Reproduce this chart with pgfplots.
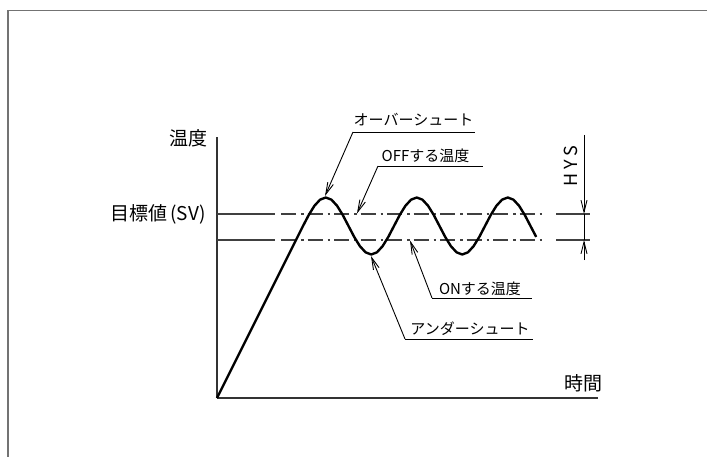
\documentclass[border=0pt]{standalone}
\usepackage{fontspec}
\setmainfont{Noto Sans CJK JP}
\usepackage{pgfplots}
\usepackage{pgfplotstable}
\pgfplotsset{compat=1.18}
\usetikzlibrary{arrows.meta}

% temperature response: ramp, then oscillation around SV
\pgfplotstableread{
x y
0 0
86.00 172.00
91.69 182.91
97.38 192.15
103.06 198.33
108.75 200.50
114.44 198.33
120.13 192.15
125.81 182.91
131.50 172.00
137.19 161.09
142.88 151.85
148.56 145.67
154.25 143.50
159.94 145.67
165.63 151.85
171.31 161.09
177.00 172.00
182.69 182.91
188.38 192.15
194.06 198.33
199.75 200.50
205.44 198.33
211.13 192.15
216.81 182.91
222.50 172.00
228.19 161.09
233.88 151.85
239.56 145.67
245.25 143.50
250.94 145.67
256.63 151.85
262.31 161.09
268.00 172.00
273.69 182.91
279.38 192.15
285.06 198.33
290.75 200.50
296.44 198.33
302.13 192.15
307.81 182.91
313.50 172.00
319.19 161.09
}\curve

\tikzset{
  lead/.style={black, line width=0.9pt, -{Straight Barb[length=12pt,width=6pt]}},
  ref/.style={black!75, line width=1.4pt},
  chain/.style={ref, dash pattern=on 15pt off 5pt on 2.5pt off 4pt},
}

\begin{document}
\begin{tikzpicture}[x=1pt,y=1pt]
\useasboundingbox (0,0) rectangle (707,456);
\draw[line width=1.7pt, black!55] (8.3,-3) -- (8.3,445.5) -- (712,445.5);
\begin{axis}[
  x=1pt, y=1pt, anchor=origin, at={(217pt,58pt)},
  xmin=0, xmax=381, ymin=0, ymax=261,
  axis lines*=left, axis line style={line width=1.8pt, black!80},
  xtick=\empty, ytick=\empty,
  clip=false]

  % SV (OFF) and ON levels
  \addplot[ref] coordinates {(0,184) (58,184)};
  \addplot[chain] coordinates {(64,184) (326,184)};
  \addplot[ref] coordinates {(339,184) (373,184)};
  \addplot[ref] coordinates {(0,158) (58,158)};
  \addplot[chain] coordinates {(64,158) (326,158)};
  \addplot[ref] coordinates {(339,158) (373,158)};

  \addplot[black, line width=2.4pt, line join=round] table[x=x,y=y] {\curve};

  % axis names
  \node[anchor=east, font=\fontsize{19}{21}\selectfont] at (axis cs:-6,260) {温度};
  \node[anchor=east, font=\fontsize{19}{21}\selectfont] at (axis cs:-8,184) {目標値\kern3pt(SV)};
  \node[font=\fontsize{19}{21}\selectfont] at (axis cs:366,14.5) {時間};

  % leaders
  \draw[black, line width=0.9pt] (axis cs:136,266) -- (axis cs:258,266);
  \draw[lead] (axis cs:136,266) -- (axis cs:108,202);
  \node[anchor=base, inner sep=0, font=\fontsize{15}{17}\selectfont] at (axis cs:196.5,272) {オーバーシュート};

  \draw[black, line width=0.9pt] (axis cs:161,232) -- (axis cs:266,232);
  \draw[lead] (axis cs:161,232) -- (axis cs:140,184.5);
  \node[anchor=base, inner sep=0, font=\fontsize{15}{17}\selectfont] at (axis cs:208.5,236) {OFFする温度};

  \draw[black, line width=0.9pt] (axis cs:215,100) -- (axis cs:315,100);
  \draw[lead] (axis cs:215,100) -- (axis cs:193,157.5);
  \node[anchor=base, inner sep=0, font=\fontsize{15}{17}\selectfont] at (axis cs:263,104) {ONする温度};

  \draw[black, line width=0.9pt] (axis cs:188,59) -- (axis cs:316,59);
  \draw[lead] (axis cs:188,59) -- (axis cs:154,142);
  \node[anchor=base, inner sep=0, font=\fontsize{15}{17}\selectfont] at (axis cs:253,64) {アンダーシュート};

  % hysteresis dimension
  \draw[lead] (axis cs:367,263) -- (axis cs:367,184);
  \draw[black, line width=0.9pt] (axis cs:367,184) -- (axis cs:367,158);
  \draw[lead] (axis cs:367,138) -- (axis cs:367,158);
  \node[rotate=90, font=\fontsize{18}{20}\selectfont] at (axis cs:354,232) {H Y S};
\end{axis}
\end{tikzpicture}
\end{document}
